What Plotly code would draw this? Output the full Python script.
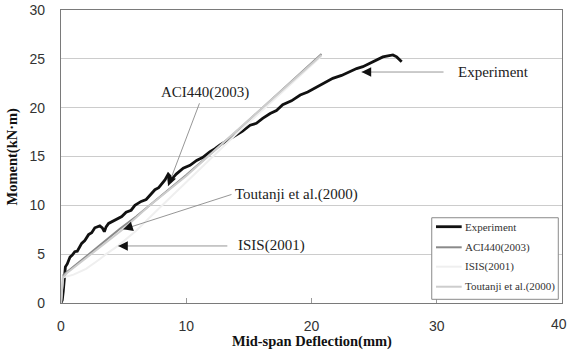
import plotly.graph_objects as go

# Moment vs. mid-span deflection: test data and code predictions
exp_defl = [0, 0.1, 0.18, 0.25, 0.35, 0.5, 0.72, 0.9, 1.1, 1.3, 1.65, 1.9, 2.2, 2.45, 2.7,
            3.1, 3.3, 3.46, 3.6, 3.8, 4.2, 4.85, 5.2, 5.6, 5.9, 6.4, 6.8, 7.1, 7.5, 7.8,
            8.3, 8.56, 8.7, 8.83, 9.2, 9.76, 10.3, 10.83, 11.3, 11.9, 12.3, 12.7, 13.2,
            13.8, 14.5, 15.1, 15.6, 16.1, 16.7, 17.2, 17.7, 18.4, 19.1, 19.7, 20.4, 21.0,
            21.7, 22.4, 23.1, 23.6, 24.1, 24.7, 25.2, 25.7, 26.1, 26.5, 26.8, 27.2]
exp_moment = [0, 0.3, 1.2, 2.3, 3.7, 4.0, 4.7, 4.9, 5.25, 5.3, 6.1, 6.4, 7.0, 7.2, 7.7,
              7.9, 7.7, 7.3, 7.8, 8.15, 8.4, 8.85, 9.3, 9.5, 10.0, 10.4, 10.6, 11.0, 11.6, 11.8,
              12.6, 13.2, 13.0, 12.66, 13.2, 13.8, 14.1, 14.6, 14.9, 15.5, 15.8, 16.2, 16.6,
              17.0, 17.6, 18.2, 18.4, 18.9, 19.4, 19.7, 20.3, 20.7, 21.3, 21.6, 22.1, 22.5,
              23.0, 23.3, 23.7, 24.0, 24.2, 24.6, 24.9, 25.2, 25.3, 25.4, 25.2, 24.7]

aci_defl = [0, 0.15, 0.2, 2.0, 4.7, 6.0, 10.0, 14.3, 17.5, 20.8]
aci_moment = [0, 2.6, 2.9, 4.75, 7.6, 8.85, 13.1, 17.9, 21.6, 25.5]

isis_defl = [0, 0.15, 1.0, 2.0, 3.0, 3.6, 4.6, 6.0, 8.0, 10.0, 12.0, 14.0, 17.5, 20.8]
isis_moment = [0, 2.6, 2.9, 3.5, 4.4, 5.0, 5.9, 7.4, 9.9, 12.4, 14.9, 17.3, 21.4, 25.3]

tout_defl = [0, 0.15, 0.5, 1.0, 2.0, 3.0, 4.0, 5.0, 7.0, 10.0, 14.0, 17.5, 20.8]
tout_moment = [0, 2.6, 3.1, 3.6, 4.6, 5.6, 6.6, 7.6, 9.9, 13.0, 17.6, 21.6, 25.4]

series_names = ["Experiment", "ACI440(2003)", "ISIS(2001)", "Toutanji et al.(2000)"]
series_colors = ["#111111", "#8a8a8a", "#efefef", "#cdcdcd"]
series_widths = [2.8, 2.0, 2.0, 2.0]

x_ticks = [0, 10, 20, 30]
x_last_tick = 40
y_ticks = [0, 5, 10, 15, 20, 25, 30]

SERIF = "Liberation Serif, Times New Roman, serif"
SANS = "Liberation Sans, Arial, sans-serif"

fig = go.Figure()
for name, xs, ys, col, w in zip(series_names,
                                [exp_defl, aci_defl, isis_defl, tout_defl],
                                [exp_moment, aci_moment, isis_moment, tout_moment],
                                series_colors, series_widths):
    fig.add_trace(go.Scatter(x=xs, y=ys, mode="lines", name=name,
                             line=dict(color=col, width=w), showlegend=False))

# Callout labels: (text, text x, text y, anchor, tail x, tail y, tip x, tip y)
callouts = [
    ("ACI440(2003)", 11.5, 21.6, "center", 11.1, 20.6, 8.55, 11.97),
    ("Experiment", 31.5, 23.65, "left", 30.66, 23.65, 24.0, 23.65),
    ("Toutanji et al.(2000)", 13.73, 11.16, "left", 13.73, 11.16, 4.97, 7.54),
    ("ISIS(2001)", 14.0, 5.84, "left", 13.4, 5.84, 4.57, 5.84),
]
for text, tx, ty, anc, x0, y0, x1, y1 in callouts:
    fig.add_annotation(x=tx, y=ty, text=text, showarrow=False, xanchor=anc,
                       yanchor="middle", font=dict(family=SERIF, size=15, color="#222"))
    # thin connector
    fig.add_annotation(x=x1, y=y1, ax=x0, ay=y0, axref="x", ayref="y", xref="x", yref="y",
                       text="", showarrow=True, arrowhead=0, arrowwidth=0.9,
                       arrowcolor="#8a8a8a")
    # black arrowhead at the tip
    fx = x1 + (x0 - x1) * 0.08
    fy = y1 + (y0 - y1) * 0.08
    fig.add_annotation(x=x1, y=y1, ax=fx, ay=fy, axref="x", ayref="y", xref="x", yref="y",
                       text="", showarrow=True, arrowhead=2, arrowsize=1.6, arrowwidth=1.2,
                       arrowcolor="#111111")

# last x tick label sits on the right border; nudged to stay on the page
fig.add_annotation(x=x_last_tick, y=0, xref="x", yref="paper", text=str(x_last_tick),
                   showarrow=False, xanchor="center", yanchor="middle", yshift=-21, xshift=-3,
                   font=dict(family=SANS, size=14, color="#333"))

# axis titles
fig.add_annotation(xref="paper", yref="paper", x=0.5, y=-0.1297, text="<b>Mid-span Deflection(mm)</b>",
                   showarrow=False, xanchor="center", yanchor="middle",
                   font=dict(family=SERIF, size=14.5, color="#111"))
fig.add_annotation(xref="paper", yref="paper", x=-0.0978, y=0.5, text="<b>Moment(kN·m)</b>",
                   showarrow=False, xanchor="center", yanchor="middle", textangle=-90,
                   font=dict(family=SERIF, size=14.5, color="#111"))

# Legend box drawn in paper coordinates
shapes = [dict(type="rect", xref="paper", yref="paper", x0=0.740, x1=0.9926, y0=0.0126,
               y1=0.291, line=dict(color="#8a8a8a", width=1), fillcolor="white", layer="above")]
leg_y = [0.2604, 0.1901, 0.1239, 0.0556]
for name, col, w, yy in zip(series_names, series_colors, series_widths, leg_y):
    shapes.append(dict(type="line", xref="paper", yref="paper", x0=0.7485, x1=0.7998,
                       y0=yy, y1=yy, line=dict(color=col, width=w), layer="above"))
    fig.add_annotation(xref="paper", yref="paper", x=0.8024, y=yy, text=name,
                       showarrow=False, xanchor="left", yanchor="middle",
                       font=dict(family=SERIF, size=11, color="#333"))

fig.update_layout(
    width=568, height=351,
    margin=dict(l=61, r=6, t=10, b=48),
    paper_bgcolor="white", plot_bgcolor="white",
    shapes=shapes,
    xaxis=dict(range=[0, 40], tickvals=x_ticks, ticks="inside", ticklen=5,
               tickcolor="#9a9a9a", showgrid=False, zeroline=False, automargin=False,
               showline=True, linecolor="#7a7a7a", linewidth=1.2, mirror=True,
               tickfont=dict(family=SANS, size=14, color="#333"), ticklabelstandoff=10),
    yaxis=dict(range=[0, 30], tickvals=y_ticks, ticks="", showgrid=True, automargin=False,
               gridcolor="#cccccc", gridwidth=1, zeroline=False,
               showline=True, linecolor="#7a7a7a", linewidth=1.2, mirror=True,
               tickfont=dict(family=SANS, size=14, color="#333"), ticklabelstandoff=12),
)

fig.write_html("out.html")
